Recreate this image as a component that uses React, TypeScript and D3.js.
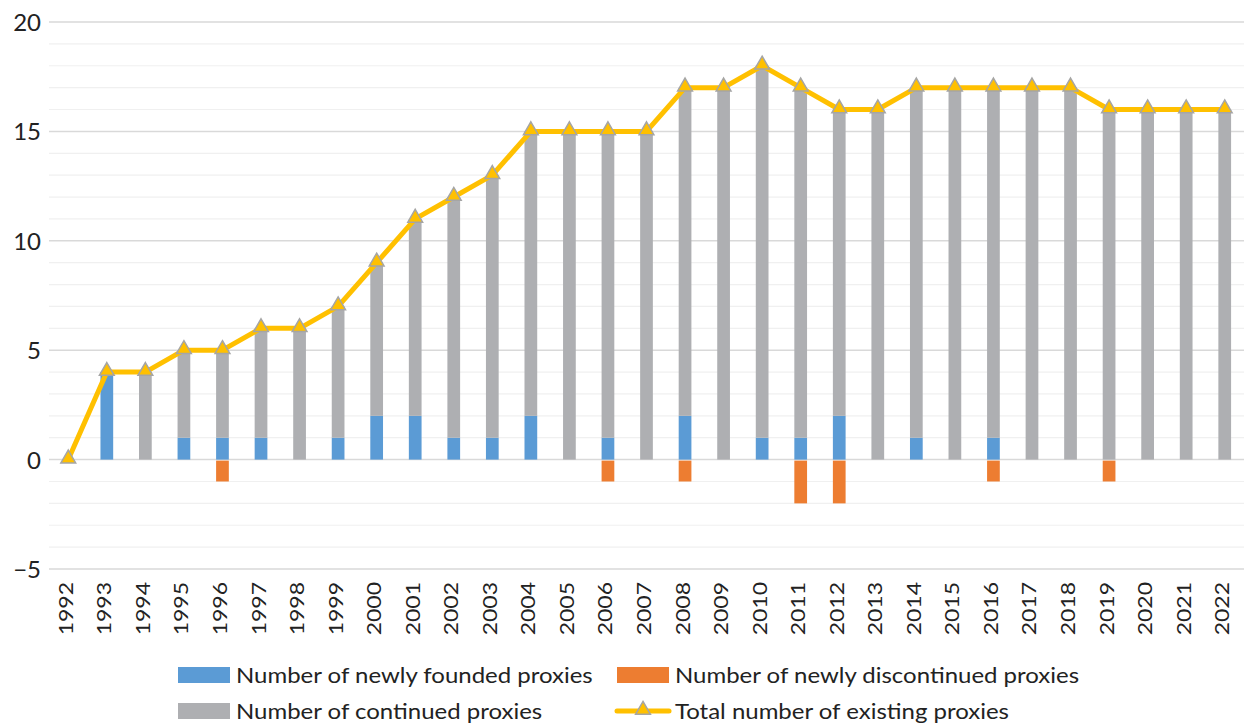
import React, { useEffect, useRef } from 'react';
import * as d3 from 'd3';

const years = d3.range(1992, 2023).map(String);
const total = [0, 4, 4, 5, 5, 6, 6, 7, 9, 11, 12, 13, 15, 15, 15, 15, 17, 17, 18, 17, 16, 16, 17, 17, 17, 17, 17, 16, 16, 16, 16];
const founded = [0, 4, 0, 1, 1, 1, 0, 1, 2, 2, 1, 1, 2, 0, 1, 0, 2, 0, 1, 1, 2, 0, 1, 0, 1, 0, 0, 0, 0, 0, 0];
const discontinued = [0, 0, 0, 0, -1, 0, 0, 0, 0, 0, 0, 0, 0, 0, -1, 0, -1, 0, 0, -2, -2, 0, 0, 0, -1, 0, 0, -1, 0, 0, 0];
const continued = total.map((t, i) => t - founded[i]);
const yTicks = [-5, 0, 5, 10, 15, 20];

const BLUE = '#5B9BD5';
const ORANGE = '#ED7D31';
const GRAY = '#AEAFB2';
const YELLOW = '#FFC000';
const FONT = 'Lato, "Open Sans", sans-serif';

const App = () => {
  const svgRef = useRef<SVGSVGElement>(null);

  useEffect(() => {
    const svg = d3.select(svgRef.current);
    svg.selectAll('*').remove();

    const x = d3.scaleBand().domain(years).range([49, 1244]).paddingInner(0.67).paddingOuter(0.335);
    const y = d3.scaleLinear().domain([-5, 20]).range([569, 22]);
    const bw = x.bandwidth();
    const cx = (d: string) => (x(d) ?? 0) + bw / 2;

    // gridlines (minor every 1, major every 5)
    svg.append('g')
      .selectAll('line')
      .data(d3.range(-5, 21))
      .enter()
      .append('line')
      .attr('x1', 49)
      .attr('x2', 1244)
      .attr('y1', d => y(d))
      .attr('y2', d => y(d))
      .attr('stroke', d => (d % 5 === 0 ? '#d9d9d9' : '#f0f0f0'))
      .attr('stroke-width', d => (d % 5 === 0 ? 1.5 : 1.2));

    // y labels
    svg.append('g')
      .selectAll('text')
      .data(yTicks)
      .enter()
      .append('text')
      .attr('x', 41)
      .attr('y', d => y(d) + 9)
      .attr('text-anchor', 'end')
      .attr('font-family', FONT)
      .attr('font-size', 24)
      .attr('fill', '#222')
      .text(d => (d < 0 ? '\u2212' + Math.abs(d) : String(d)));

    // bars
    const bars = svg.append('g');
    bars.selectAll('.founded')
      .data(years)
      .enter()
      .append('rect')
      .attr('x', d => x(d) ?? 0)
      .attr('width', bw)
      .attr('y', (d, i) => y(founded[i]))
      .attr('height', (d, i) => y(0) - y(founded[i]))
      .attr('fill', BLUE);
    bars.selectAll('.continued')
      .data(years)
      .enter()
      .append('rect')
      .attr('x', d => x(d) ?? 0)
      .attr('width', bw)
      .attr('y', (d, i) => y(founded[i] + continued[i]))
      .attr('height', (d, i) => y(founded[i]) - y(founded[i] + continued[i]))
      .attr('fill', GRAY);
    bars.selectAll('.disc')
      .data(years)
      .enter()
      .append('rect')
      .attr('x', d => x(d) ?? 0)
      .attr('width', bw)
      .attr('y', y(0) + 1)
      .attr('height', (d, i) => Math.max(0, y(discontinued[i]) - y(0) - 1))
      .attr('fill', ORANGE);

    // total line
    const line = d3.line<number>().x((d, i) => cx(years[i])).y(d => y(d));
    svg.append('path')
      .attr('d', line(total))
      .attr('fill', 'none')
      .attr('stroke', YELLOW)
      .attr('stroke-width', 5)
      .attr('stroke-linejoin', 'round');

    const tri = d3.symbol().type(d3.symbolTriangle).size(95);
    svg.append('g')
      .selectAll('path')
      .data(total)
      .enter()
      .append('path')
      .attr('d', tri)
      .attr('transform', (d, i) => `translate(${cx(years[i])},${y(d) - 1})`)
      .attr('fill', YELLOW)
      .attr('stroke', '#A5A5A5')
      .attr('stroke-width', 1.5);

    // x labels (rotated, slightly stretched along the text like the original)
    svg.append('g')
      .selectAll('text')
      .data(years)
      .enter()
      .append('text')
      .attr('transform', d => `translate(${cx(d) + 4.5},${582}) rotate(-90) scale(1.15,1)`)
      .attr('text-anchor', 'end')
      .attr('font-family', FONT)
      .attr('font-size', 20)
      .attr('fill', '#222')
      .text(d => d);

    // legend
    const legendItems = [
      { label: 'Number of newly founded proxies', color: BLUE, type: 'rect', x: 178, y: 675 },
      { label: 'Number of newly discontinued proxies', color: ORANGE, type: 'rect', x: 617, y: 675 },
      { label: 'Number of continued proxies', color: GRAY, type: 'rect', x: 178, y: 711 },
      { label: 'Total number of existing proxies', color: YELLOW, type: 'line', x: 617, y: 711 },
    ];
    const lg = svg.append('g');
    legendItems.forEach(item => {
      if (item.type === 'rect') {
        lg.append('rect')
          .attr('x', item.x)
          .attr('y', item.y - 8)
          .attr('width', 52)
          .attr('height', 16)
          .attr('fill', item.color);
      } else {
        lg.append('line')
          .attr('x1', item.x)
          .attr('x2', item.x + 52)
          .attr('y1', item.y)
          .attr('y2', item.y)
          .attr('stroke', item.color)
          .attr('stroke-width', 5)
          .attr('stroke-linecap', 'round');
        lg.append('path')
          .attr('d', tri)
          .attr('transform', `translate(${item.x + 26},${item.y - 1})`)
          .attr('fill', YELLOW)
          .attr('stroke', '#A5A5A5')
          .attr('stroke-width', 1.5);
      }
      lg.append('text')
        .attr('transform', `translate(${item.x + 58},${item.y + 8}) scale(1.09,1)`)
        .attr('font-family', FONT)
        .attr('font-size', 22)
        .attr('fill', '#222')
        .text(item.label);
    });
  }, []);

  return (
    <svg ref={svgRef} width={1248} height={724} style={{ position: 'absolute', left: 0, top: 0, background: '#fff' }}></svg>
  );
};

export default App;
